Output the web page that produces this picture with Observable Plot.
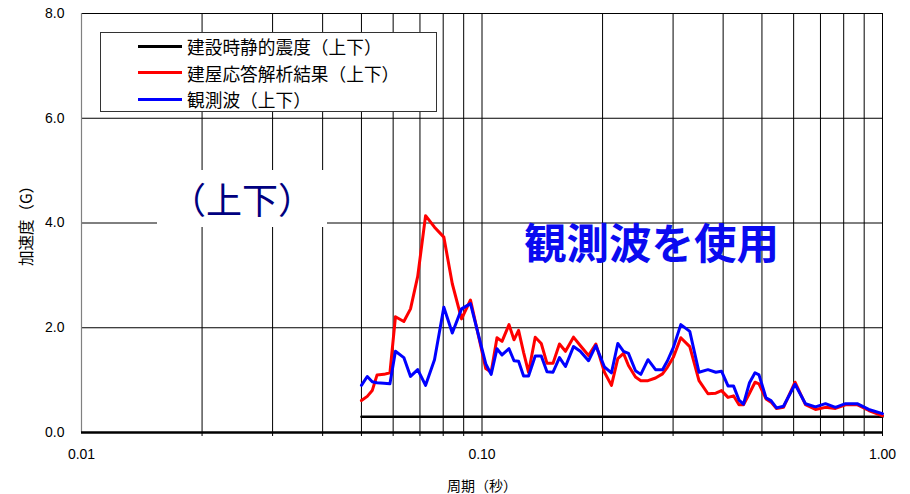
<!DOCTYPE html>
<html><head><meta charset="utf-8">
<script src="https://cdn.jsdelivr.net/npm/d3@7"></script>
<script src="https://cdn.jsdelivr.net/npm/@observablehq/plot@0.6"></script>
<style>
body{margin:0;background:#fff;}
#wrap{position:relative;width:910px;height:494px;font-family:"Liberation Sans","Noto Sans CJK JP",sans-serif;}
#wrap svg{position:absolute;left:0;top:0;}
.legend{position:absolute;left:100px;top:32px;width:335px;height:78px;background:#fff;border:1px solid #333;}
.lrow{position:absolute;left:37px;height:26px;display:flex;align-items:center;font-family:"Noto Sans CJK JP",sans-serif;font-size:17.7px;color:#000;white-space:nowrap;}
.lrow span.sw{display:inline-block;width:44px;height:3px;margin-right:5px;}
.tag{position:absolute;left:157px;top:170px;width:170px;height:57px;background:#fff;display:flex;align-items:center;justify-content:center;font-family:"Noto Sans CJK JP",sans-serif;font-size:36px;color:#000080;line-height:57px;}
.note{position:absolute;left:524px;top:216px;font-family:"Noto Sans CJK JP",sans-serif;font-weight:bold;font-size:42.5px;color:#0a0af0;white-space:nowrap;line-height:50px;}
.ylab{position:absolute;left:25px;top:222px;transform:translate(-50%,-50%) rotate(-90deg);font-family:"Noto Sans CJK JP",sans-serif;font-size:15.5px;color:#000;white-space:nowrap;line-height:18px;}
</style></head>
<body><div id="wrap"></div>
<script>
// Period (s)
const periods = [0.050,0.0517,0.0532,0.0547,0.0569,0.0589,0.0608,0.0638,0.0663,0.0691,
0.0723,0.0761,0.0803,0.0843,0.0889,0.0936,0.1022,0.1054,0.1090,0.1122,
0.1168,0.1202,0.1234,0.1270,0.1307,0.1358,0.1406,0.1453,0.1504,0.1561,
0.1616,0.1692,0.1759,0.1845,0.1924,0.2022,0.2105,0.2183,0.2256,0.2321,
0.2417,0.2492,0.2597,0.2712,0.2823,0.2905,0.3007,0.3136,0.3302,0.3482,
0.3666,0.3835,0.3963,0.4114,0.4246,0.4382,0.4497,0.4655,0.4805,0.4916,
0.5119,0.5268,0.5437,0.5660,0.6047,0.6422,0.6802,0.7204,0.7630,0.8082,
0.8644,0.9240,1.000];
// 建屋応答解析結果（上下）
const responseValues = [0.61,0.69,0.80,1.10,1.11,1.14,2.21,2.12,2.36,2.98,
4.14,3.92,3.73,2.84,2.17,2.53,1.22,1.15,1.81,1.74,
2.06,1.77,1.95,1.53,1.15,1.82,1.70,1.32,1.32,1.69,
1.55,1.82,1.66,1.47,1.69,1.15,0.90,1.41,1.51,1.28,
1.06,0.99,0.99,1.04,1.12,1.25,1.44,1.81,1.64,0.99,
0.74,0.75,0.80,0.67,0.70,0.53,0.53,0.75,0.96,0.93,
0.64,0.58,0.46,0.48,0.96,0.53,0.44,0.48,0.46,0.53,
0.53,0.42,0.32];
// 観測波（上下）
const observedValues = [0.90,1.07,0.97,0.95,0.94,0.93,1.55,1.43,1.07,1.20,
0.90,1.39,2.39,1.90,2.36,2.46,1.31,1.11,1.60,1.48,
1.60,1.37,1.36,1.08,1.08,1.46,1.46,1.16,1.15,1.43,
1.26,1.64,1.55,1.37,1.66,1.25,1.14,1.70,1.55,1.51,
1.18,1.11,1.39,1.20,1.20,1.37,1.63,2.06,1.93,1.15,
1.20,1.15,1.17,0.89,0.89,0.62,0.54,0.95,1.14,1.10,
0.66,0.61,0.47,0.50,0.92,0.55,0.49,0.55,0.48,0.55,
0.55,0.44,0.36];
// 建設時静的震度（上下）
const designPeriods = [0.05, 1.0];
const designValues = [0.30, 0.30];

const seriesNames = ["建設時静的震度（上下）","建屋応答解析結果（上下）","観測波（上下）"];
const seriesColors = ["#000000","#ff0000","#0000ff"];

const xTickValues = [0.01, 0.1, 1];
const xGridValues = [0.02,0.03,0.04,0.05,0.06,0.07,0.08,0.09,0.1,0.2,0.3,0.4,0.5,0.6,0.7,0.8,0.9,1.0];
const yTickValues = [0, 2, 4, 6, 8];
const yGridValues = [2, 4, 6, 8];

const designData = designPeriods.map((p,i)=>({p, v:designValues[i]}));
const respData = periods.map((p,i)=>({p, v:responseValues[i]}));
const obsData = periods.map((p,i)=>({p, v:observedValues[i]}));

const chart = Plot.plot({
  width: 910, height: 494,
  marginLeft: 81, marginRight: 28, marginTop: 13, marginBottom: 62,
  style: {fontFamily: '"Liberation Sans","Noto Sans CJK JP",sans-serif', fontSize: "14px", color: "#000", background: "transparent"},
  x: {type: "log", domain: [0.01, 1]},
  y: {domain: [0, 8]},
  marks: [
    Plot.gridX(xGridValues, {stroke: "#000", strokeOpacity: 1, strokeWidth: 1}),
    Plot.gridY(yGridValues, {stroke: "#000", strokeOpacity: 1, strokeWidth: 1}),
    Plot.ruleX([0.01], {stroke: "#808080", strokeWidth: 1.2}),
    Plot.axisX(xGridValues, {tickSize: 4, tickFormat: () => "", label: null, stroke: "#000"}),
    Plot.axisX(xTickValues, {tickSize: 0, tickPadding: 17, tickFormat: d3.format(".2f"), fontSize: 14,
      label: "周期（秒）", labelAnchor: "center", labelArrow: "none", labelOffset: 58}),
    Plot.axisY(yTickValues, {tickSize: 0, tickPadding: 17, tickFormat: d3.format(".1f"), fontSize: 14, label: null}),
    Plot.ruleY([0], {stroke: "#000", strokeWidth: 2.5}),
    Plot.line(designData, {x: "p", y: "v", stroke: seriesColors[0], strokeWidth: 2.5}),
    Plot.line(respData, {x: "p", y: "v", stroke: seriesColors[1], strokeWidth: 3}),
    Plot.line(obsData, {x: "p", y: "v", stroke: seriesColors[2], strokeWidth: 3})
  ]
});
const wrap = document.getElementById("wrap");
wrap.appendChild(chart);

// y axis title
const ylab = document.createElement("div");
ylab.className = "ylab"; ylab.textContent = "加速度（G）";
wrap.appendChild(ylab);

// legend
const leg = document.createElement("div");
leg.className = "legend";
seriesNames.forEach((name, i) => {
  const r = document.createElement("div");
  r.className = "lrow";
  r.style.top = (0 + i * 26.5) + "px";
  const sw = document.createElement("span");
  sw.className = "sw"; sw.style.background = seriesColors[i];
  r.appendChild(sw);
  r.appendChild(document.createTextNode(name));
  leg.appendChild(r);
});
wrap.appendChild(leg);

const tag = document.createElement("div");
tag.className = "tag"; tag.textContent = "（上下）";
wrap.appendChild(tag);

const note = document.createElement("div");
note.className = "note"; note.textContent = "観測波を使用";
wrap.appendChild(note);
</script></body></html>
